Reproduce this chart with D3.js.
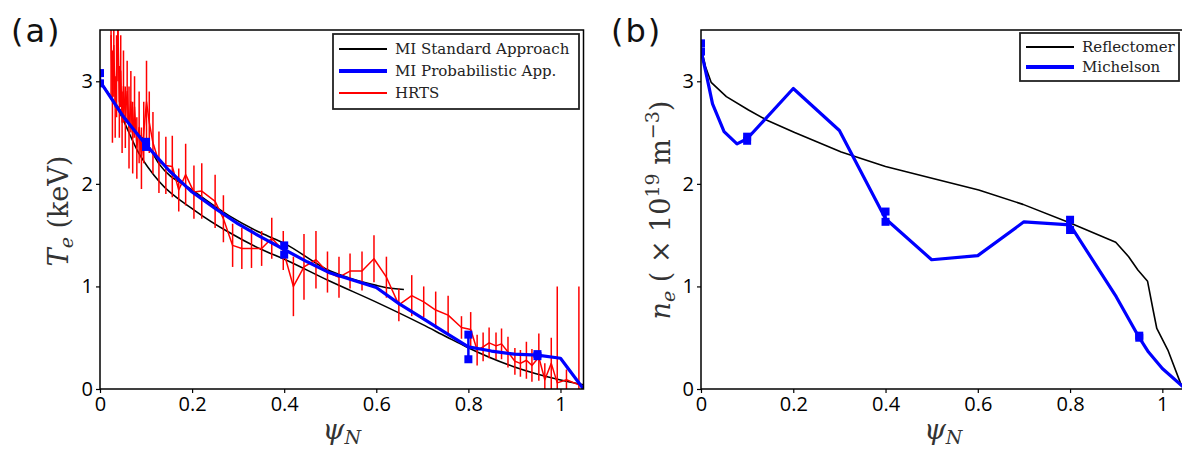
<!DOCTYPE html>
<html><head><meta charset="utf-8">
<script src="https://cdn.jsdelivr.net/npm/d3@7"></script>
<style>
html,body{margin:0;padding:0;background:#fff;}
svg{display:block;}
.tick text{font-family:"Open Sans",sans-serif;font-size:20px;fill:#000;}
</style></head>
<body>
<svg id="chart" width="1182" height="450"></svg>
<script>
// ---------- Panel (a): electron temperature ----------
const xTicks = [0, 0.2, 0.4, 0.6, 0.8, 1];
const yTicks = [0, 1, 2, 3];
const xTickLabels = ["0", "0.2", "0.4", "0.6", "0.8", "1"];
const yTickLabels = ["0", "1", "2", "3"];

const stdUpperPsi = [0, 0.05, 0.076, 0.098, 0.129, 0.2, 0.28, 0.35, 0.4, 0.5, 0.55, 0.6, 0.62, 0.66];
const stdUpperTe  = [3.0, 2.68, 2.51, 2.42, 2.19, 1.94, 1.69, 1.52, 1.42, 1.15, 1.07, 1.01, 0.99, 0.97];
const stdLowerPsi = [0, 0.04, 0.083, 0.129, 0.206, 0.279, 0.351, 0.398, 0.495, 0.608, 0.7, 0.752, 0.796, 0.897, 0.998, 1.05];
const stdLowerTe  = [3.0, 2.72, 2.31, 2.02, 1.74, 1.53, 1.36, 1.27, 1.06, 0.83, 0.63, 0.51, 0.41, 0.22, 0.09, 0.04];

const probPsi = [0, 0.05, 0.1, 0.15, 0.2, 0.25, 0.3, 0.35, 0.4, 0.45, 0.5, 0.55, 0.6, 0.65, 0.7, 0.75, 0.8, 0.85, 0.9, 0.95, 1.0, 1.05];
const probTe  = [3.0, 2.66, 2.38, 2.13, 1.92, 1.76, 1.61, 1.48, 1.36, 1.24, 1.13, 1.06, 0.99, 0.83, 0.69, 0.55, 0.41, 0.37, 0.34, 0.33, 0.30, 0.0];
const probErrPsi = [0, 0.1, 0.4, 0.8, 0.95];
const probErrLo  = [2.98, 2.36, 1.31, 0.29, 0.32];
const probErrHi  = [3.08, 2.41, 1.40, 0.53, 0.34];

const hrtsPsi = [0.024, 0.027, 0.030, 0.033, 0.036, 0.039, 0.042, 0.045, 0.048, 0.051, 0.055, 0.059, 0.063, 0.067, 0.071, 0.075, 0.080, 0.085, 0.090, 0.095, 0.101, 0.107, 0.115,
  0.128, 0.143, 0.157, 0.171, 0.186, 0.204, 0.221, 0.250, 0.268, 0.288, 0.308, 0.329, 0.351, 0.373, 0.398, 0.420, 0.443, 0.469, 0.494,
  0.519, 0.543, 0.569, 0.595, 0.622, 0.649, 0.677, 0.703, 0.729, 0.756, 0.785, 0.805, 0.819, 0.832, 0.845, 0.860, 0.872, 0.886,
  0.901, 0.913, 0.926, 0.938, 0.953, 0.966, 0.980, 0.993, 1.013, 1.040];
const hrtsTe = [3.45, 2.85, 3.35, 2.75, 3.05, 3.5, 2.8, 3.1, 2.6, 2.95, 2.65, 2.9, 2.55, 2.8, 2.45, 2.75, 2.35, 2.55, 2.25, 2.5, 2.8, 2.6, 2.4,
  2.21, 2.18, 2.17, 1.94, 2.09, 1.92, 1.93, 1.83, 1.66, 1.40, 1.37, 1.37, 1.37, 1.47, 1.35, 1.00, 1.19, 1.26, 1.14,
  1.09, 1.15, 1.15, 1.27, 1.09, 0.82, 0.91, 0.85, 0.77, 0.72, 0.60, 0.58, 0.38, 0.41, 0.45, 0.42, 0.44, 0.36,
  0.27, 0.25, 0.28, 0.23, 0.31, 0.09, 0.25, 0.06, 0.09, 0.04];
const hrtsErr = [0.6, 0.45, 0.5, 0.3, 0.4, 0.5, 0.35, 0.35, 0.3, 0.35, 0.3, 0.3, 0.4, 0.3, 0.35, 0.3, 0.3, 0.35, 0.3, 0.3, 0.4, 0.3, 0.3,
  0.3, 0.28, 0.3, 0.21, 0.3, 0.26, 0.27, 0.26, 0.23, 0.21, 0.2, 0.19, 0.17, 0.2, 0.19, 0.29, 0.32, 0.28, 0.2,
  0.2, 0.17, 0.19, 0.23, 0.2, 0.16, 0.2, 0.15, 0.18, 0.19, 0.11, 0.17, 0.15, 0.14, 0.15, 0.13, 0.15, 0.15,
  0.13, 0.13, 0.18, 0.16, 0.23, 0.16, 0.25, 0.94, 0.1, 0.96];

const legendA = ["MI Standard Approach", "MI Probabilistic App.", "HRTS"];

// ---------- Panel (b): electron density ----------
const reflPsi = [0, 0.01, 0.022, 0.055, 0.103, 0.143, 0.203, 0.304, 0.4, 0.505, 0.602, 0.698, 0.799, 0.899, 0.927, 0.947, 0.968, 0.98, 0.988, 1.012, 1.04, 1.05];
const reflNe  = [3.33, 3.14, 2.99, 2.85, 2.72, 2.62, 2.50, 2.31, 2.17, 2.05, 1.94, 1.80, 1.62, 1.43, 1.29, 1.16, 1.05, 0.77, 0.59, 0.38, 0.05, 0.0];
const michPsi = [0, 0.01, 0.025, 0.05, 0.078, 0.1, 0.2, 0.3, 0.4, 0.5, 0.6, 0.7, 0.8, 0.9, 0.95, 0.97, 1.0, 1.05];
const michNe  = [3.3, 3.10, 2.78, 2.51, 2.39, 2.44, 2.93, 2.52, 1.66, 1.26, 1.30, 1.63, 1.60, 0.90, 0.50, 0.36, 0.20, 0.0];
const michErrPsi = [0, 0.1, 0.4, 0.8, 0.95];
const michErrLo  = [3.29, 2.42, 1.63, 1.55, 0.50];
const michErrHi  = [3.37, 2.46, 1.73, 1.65, 0.52];
const legendB = ["Reflectomer", "Michelson"];

const BLUE = "#0000ff", RED = "#ff0000", BLACK = "#000000";
const serif = '"DejaVu Serif", serif';
const svg = d3.select("#chart");

function panel(id, left, right, top, bottom) {
  const x = d3.scaleLinear().domain([0, 1.05]).range([left, right]);
  const y = d3.scaleLinear().domain([0, 3.5]).range([bottom, top]);
  const g = svg.append("g");
  g.append("clipPath").attr("id", id).append("rect")
    .attr("x", left).attr("y", top).attr("width", right - left).attr("height", bottom - top);
  const ax = g.append("g").attr("transform", `translate(0,${bottom})`)
    .call(d3.axisBottom(x).tickValues(xTicks).tickFormat((d, i) => xTickLabels[i]).tickSize(4).tickPadding(4).tickSizeOuter(0));
  const ay = g.append("g").attr("transform", `translate(${left},0)`)
    .call(d3.axisLeft(y).tickValues(yTicks).tickFormat((d, i) => yTickLabels[i]).tickSize(4).tickPadding(3).tickSizeOuter(0));
  [ax, ay].forEach(a => { a.select(".domain").remove(); a.selectAll("line").attr("stroke", "#000").attr("stroke-width", 1.2); });
  const plot = g.append("g").attr("clip-path", `url(#${id})`);
  return {x, y, g, plot, left, right, top, bottom};
}

function frame(p) {
  p.g.append("rect").attr("x", p.left).attr("y", p.top)
    .attr("width", p.right - p.left).attr("height", p.bottom - p.top)
    .attr("fill", "none").attr("stroke", "#000").attr("stroke-width", 1.5);
}

function line(p, xs, ys, color, w, curve) {
  const gen = d3.line().x(i => p.x(xs[i])).y(i => p.y(ys[i])).curve(curve || d3.curveLinear);
  p.plot.append("path").attr("d", gen(d3.range(xs.length)))
    .attr("fill", "none").attr("stroke", color).attr("stroke-width", w).attr("stroke-linejoin", "round");
}

function squares(p, xs, lo, hi) {
  const s = 8;
  const gg = p.plot.append("g");
  xs.forEach((v, i) => {
    gg.append("line").attr("x1", p.x(v)).attr("x2", p.x(v)).attr("y1", p.y(lo[i])).attr("y2", p.y(hi[i]))
      .attr("stroke", BLUE).attr("stroke-width", 2.5);
    [lo[i], hi[i]].forEach(t => gg.append("rect").attr("x", p.x(v) - s / 2).attr("y", p.y(t) - s / 2)
      .attr("width", s).attr("height", s).attr("fill", BLUE));
  });
}

function legend(p, x0, y0, w, h, rowY, labels, colors, widths) {
  const lg = p.g.append("g");
  lg.append("rect").attr("x", x0).attr("y", y0).attr("width", w).attr("height", h)
    .attr("fill", "#fff").attr("stroke", "#222").attr("stroke-width", 1.8);
  labels.forEach((t, i) => {
    lg.append("line").attr("x1", x0 + 6).attr("x2", x0 + 54).attr("y1", rowY[i]).attr("y2", rowY[i])
      .attr("stroke", colors[i]).attr("stroke-width", widths[i]);
    lg.append("text").attr("x", x0 + 62).attr("y", rowY[i] + 5).text(t)
      .attr("font-family", serif).attr("font-size", 15).attr("fill", "#222");
  });
}

function xTitle(p) {
  const t = svg.append("text").attr("x", (p.left + p.right) / 2).attr("y", 439)
    .attr("text-anchor", "middle").attr("font-family", serif).attr("font-size", 28).attr("fill", "#333");
  t.append("tspan").attr("font-style", "italic").text("ψ");
  t.append("tspan").attr("font-style", "italic").attr("font-size", 19).attr("dy", 5).text("N");
}

function panelLabel(x, txt) {
  svg.append("text").attr("x", x).attr("y", 42).text(txt)
    .attr("font-family", '"DejaVu Sans", sans-serif').attr("font-size", 32)
    .attr("letter-spacing", 2).attr("fill", "#111");
}

// ----- Panel (a)
const pa = panel("clipA", 100, 583.5, 30, 389);
line(pa, stdLowerPsi, stdLowerTe, BLACK, 1.6, d3.curveMonotoneX);
line(pa, stdUpperPsi, stdUpperTe, BLACK, 1.6, d3.curveMonotoneX);
hrtsPsi.forEach((v, i) => {
  pa.plot.append("line").attr("x1", pa.x(v)).attr("x2", pa.x(v))
    .attr("y1", pa.y(hrtsTe[i] - hrtsErr[i])).attr("y2", pa.y(hrtsTe[i] + hrtsErr[i]))
    .attr("stroke", RED).attr("stroke-width", 1.5);
});
line(pa, hrtsPsi, hrtsTe, RED, 1.5);
line(pa, probPsi, probTe, BLUE, 3.2);
squares(pa, probErrPsi, probErrLo, probErrHi);
frame(pa);
legend(pa, 333, 34, 246, 75, [49, 71, 93], legendA, [BLACK, BLUE, RED], [2, 4, 2]);
xTitle(pa);
{
  const t = svg.append("text").attr("transform", "translate(68,211) rotate(-90)")
    .attr("text-anchor", "middle").attr("font-family", serif).attr("font-size", 27).attr("fill", "#333");
  t.append("tspan").attr("font-style", "italic").text("T");
  t.append("tspan").attr("font-style", "italic").attr("font-size", 19).attr("dy", 5).text("e");
  t.append("tspan").attr("dy", -5).text(" (keV)");
}
panelLabel(11, "(a)");

// ----- Panel (b)
const pb = panel("clipB", 701, 1185.4, 30, 389);
line(pb, reflPsi, reflNe, BLACK, 1.6);
line(pb, michPsi, michNe, BLUE, 3.2);
squares(pb, michErrPsi, michErrLo, michErrHi);
frame(pb);
legend(pb, 1020, 33, 159, 48, [47, 67], legendB, [BLACK, BLUE], [2, 4]);
xTitle(pb);
{
  const t = svg.append("text").attr("transform", "translate(670,210) rotate(-90)")
    .attr("text-anchor", "middle").attr("font-family", serif).attr("font-size", 27).attr("fill", "#333");
  t.append("tspan").attr("font-style", "italic").text("n");
  t.append("tspan").attr("font-style", "italic").attr("font-size", 19).attr("dy", 5).text("e");
  t.append("tspan").attr("dy", -5).text(" ( \u00d7 10");
  t.append("tspan").attr("font-size", 19).attr("dy", -11).text("19");
  t.append("tspan").attr("dy", 11).text(" m");
  t.append("tspan").attr("font-size", 19).attr("dy", -11).text("\u22123");
  t.append("tspan").attr("dy", 11).text(")");
}
panelLabel(611, "(b)");
</script>
</body></html>
